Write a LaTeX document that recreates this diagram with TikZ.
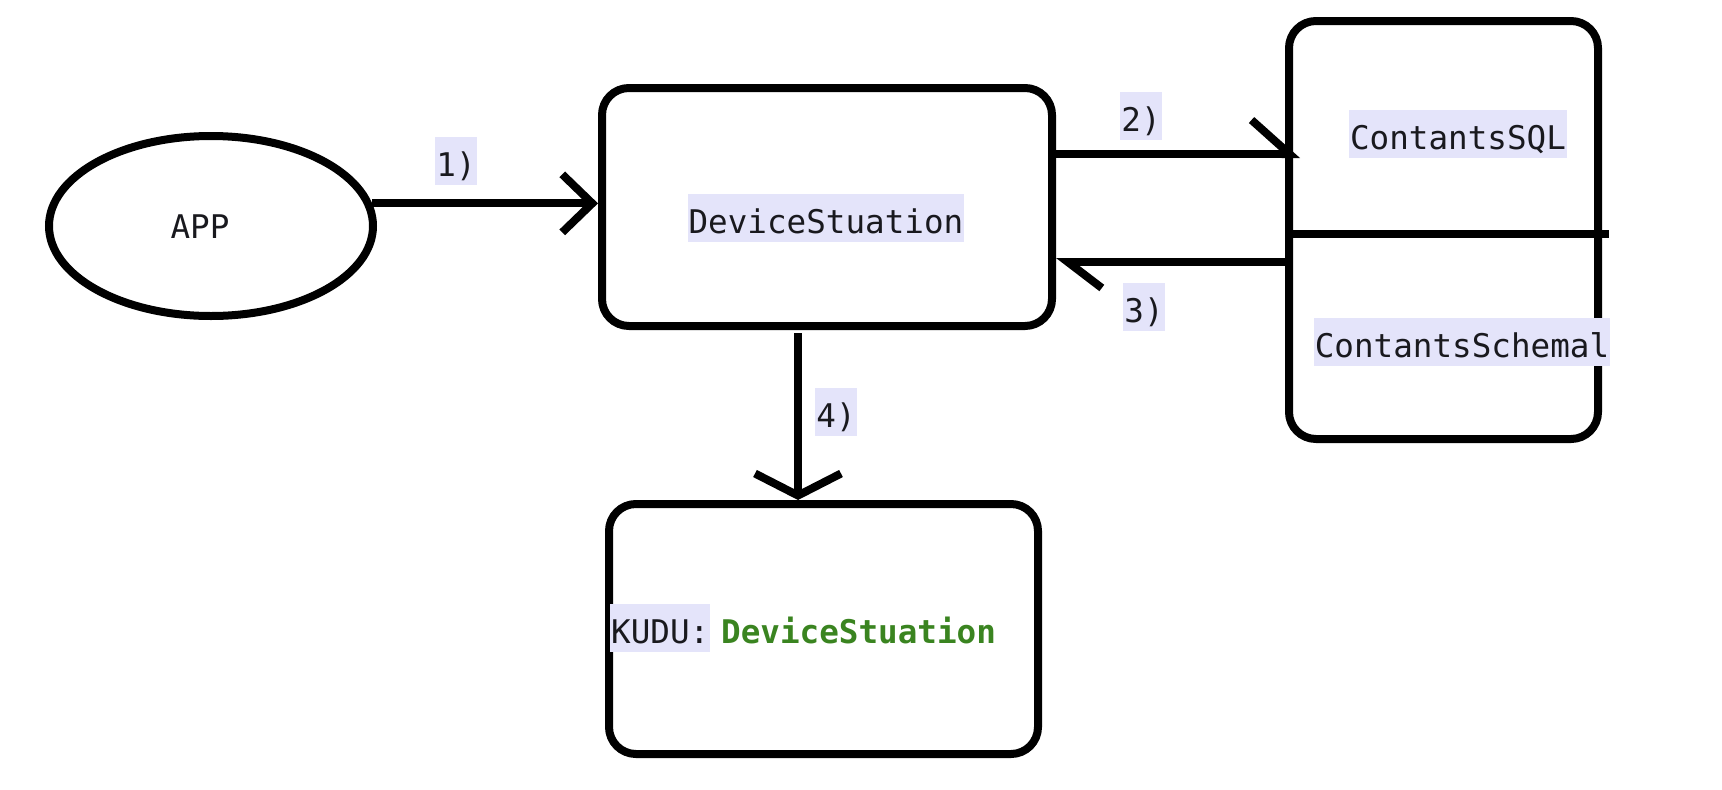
\documentclass[tikz,border=0pt]{standalone}
\usepackage{fontspec}
\setmonofont{DejaVu Sans Mono}
\usetikzlibrary{arrows.meta,shapes.geometric}
\definecolor{lav}{RGB}{228,228,250}
\definecolor{kgreen}{RGB}{58,132,32}
\definecolor{txt}{RGB}{25,25,30}
\tikzset{
  every node/.style={font=\ttfamily\fontsize{32.6}{39}\selectfont, text=txt},
  shapebox/.style={draw, line width=8pt, rounded corners=27pt, inner sep=0pt},
  hl/.style={fill=lav, inner xsep=1pt, inner ysep=0pt, text height=39pt, text depth=9pt},
  arrone/.style={line width=8pt, -{Straight Barb[length=30pt,width=58pt]}},
  arrfour/.style={line width=8pt, -{Straight Barb[length=22pt,width=86pt]}},
  harptwo/.style={line width=8pt, -{Straight Barb[harpoon,length=38pt,width=68pt]}},
  harpthree/.style={line width=8pt, -{Straight Barb[harpoon,length=34pt,width=52pt]}},
  plain/.style={line width=8pt}
}
\begin{document}
\begin{tikzpicture}[x=1pt,y=-1pt]
\useasboundingbox (0,0) rectangle (1722,790);
% shapes
\node[draw, line width=8pt, ellipse, minimum width=324pt, minimum height=180pt, inner sep=0pt] (app) at (211,226) {};
\node (apptext) at (200,227) {APP};
\node[shapebox, minimum width=450pt, minimum height=238pt] (dev) at (827,207) {};
\node[hl] (devtext) at (826,218) {DeviceStuation};
\node[shapebox, minimum width=309pt, minimum height=418pt] (cont) at (1443.5,230) {};
\node[hl] (sqltext) at (1458,134) {ContantsSQL};
\node[hl] (schtext) at (1462,342) {ContantsSchemal};
\node[shapebox, minimum width=429pt, minimum height=250pt] (kudu) at (823.5,629) {};
\node[hl, anchor=west] (kudutext) at (610,628) {KUDU:};
\node[anchor=west, inner xsep=0pt, text height=39pt, text depth=9pt, text=kgreen, font=\ttfamily\bfseries\fontsize{32.6}{39}\selectfont] (kuduname) at (721,628) {DeviceStuation};
% divider
\coordinate (dl) at (1289,234);
\coordinate (dr) at (1609,234);
\draw[plain] (dl) -- (dr);
% connectors
\draw[arrone] (app.8.7) -- (dev.west |- app.8.7);
\node[hl] (l1) at (456,161) {1)};
\coordinate (t2) at (1300,154);
\draw[harptwo] (dev.east |- t2) -- (t2);
\node[hl] (l2) at (1141,116) {2)};
\coordinate (t3) at (1289,262);
\draw[harpthree] (cont.west |- t3) -- (dev.east |- t3);
\node[hl] (l3) at (1144,307) {3)};
\coordinate (s4) at (798,333);
\draw[arrfour] (s4) -- (s4 |- kudu.north);
\node[hl] (l4) at (836,412) {4)};
\end{tikzpicture}
\end{document}
